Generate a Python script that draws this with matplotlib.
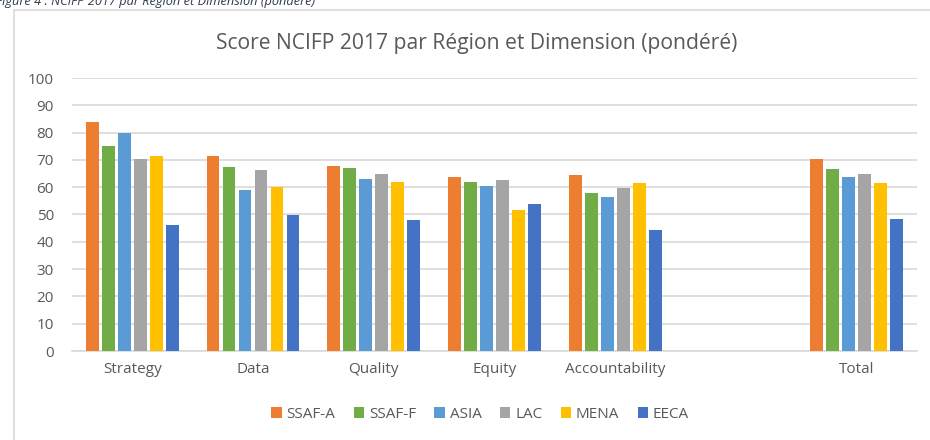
import matplotlib.pyplot as plt
import numpy as np
from matplotlib.patches import Rectangle

CATEGORIES = ["Strategy", "Data", "Quality", "Equity", "Accountability", "", "Total"]
REGIONS = ["SSAF-A", "SSAF-F", "ASIA", "LAC", "MENA", "EECA"]
COLORS = ["#ED7D31", "#70AD47", "#5B9BD5", "#A5A5A5", "#FFC000", "#4472C4"]

# None = empty category slot
SSAF_A = [84.0, 71.6, 67.8, 63.8, 64.5, None, 70.3]
SSAF_F = [75.2, 67.3, 67.0, 61.9, 57.8, None, 66.5]
ASIA = [80.0, 59.0, 62.9, 60.5, 56.3, None, 63.8]
LAC = [70.2, 66.2, 64.8, 62.7, 59.6, None, 64.9]
MENA = [71.4, 60.0, 61.8, 51.8, 61.4, None, 61.6]
EECA = [46.0, 49.9, 48.1, 53.7, 44.3, None, 48.3]

SERIES = [SSAF_A, SSAF_F, ASIA, LAC, MENA, EECA]
TEXT = "#595959"
GRID = "#D9D9D9"

plt.rcParams["font.family"] = ["Open Sans", "DejaVu Sans"]

fig = plt.figure(figsize=(9.3, 4.4), dpi=100)
W, H = 930, 440

# chart frame (runs off the right and bottom edges)
fig.patches.append(Rectangle((14 / W, -0.05), 1.0, 1 - 10 / H + 0.05,
                             transform=fig.transFigure, fill=False,
                             edgecolor=GRID, linewidth=1.2))

# caption above the frame, cut off by the top edge as in the source
fig.text(-4 / W, 1 - 5 / H, "Figure 4 : NCIFP 2017 par Région et Dimension (pondéré)",
         fontsize=9.2, style="italic", color="#2F3B4C", va="baseline", ha="left")

ax = fig.add_axes([72 / W, 1 - 351 / H, (917 - 72) / W, (351 - 78) / H])

x = np.arange(len(CATEGORIES))
step = 0.1326
width = 0.105
for i, (name, vals, col) in enumerate(zip(REGIONS, SERIES, COLORS)):
    xs = [xi for xi, v in zip(x, vals) if v is not None]
    ys = [v for v in vals if v is not None]
    offs = (i - 2.5) * step
    ax.bar(np.array(xs) + offs, ys, width=width, color=col, label=name, zorder=3)

ax.set_xlim(-0.5, len(CATEGORIES) - 0.5)
ax.set_ylim(0, 100)
ax.set_yticks(range(0, 101, 10))
ax.set_xticks(x)
ax.set_xticklabels(CATEGORIES)
ax.grid(axis="y", color=GRID, linewidth=1.2, zorder=0)
ax.set_axisbelow(True)
for s in ["top", "right", "left"]:
    ax.spines[s].set_visible(False)
ax.spines["bottom"].set_color(GRID)
ax.spines["bottom"].set_linewidth(1.2)
ax.tick_params(axis="both", length=0, colors=TEXT, labelsize=11)
ax.tick_params(axis="x", pad=8)
ax.tick_params(axis="y", pad=13)

fig.text(477 / W, 1 - 44 / H, "Score NCIFP 2017 par Région et Dimension (pondéré)",
         fontsize=15.2, color=TEXT, ha="center", va="center")

leg = fig.legend(*ax.get_legend_handles_labels(), loc="center",
                 bbox_to_anchor=(480 / W, 1 - 414 / H), ncol=6, frameon=False,
                 fontsize=11, handlelength=0.7, handleheight=0.7,
                 handletextpad=0.3, columnspacing=1.2)
for t in leg.get_texts():
    t.set_color(TEXT)

fig.savefig("out.png", dpi=100)
